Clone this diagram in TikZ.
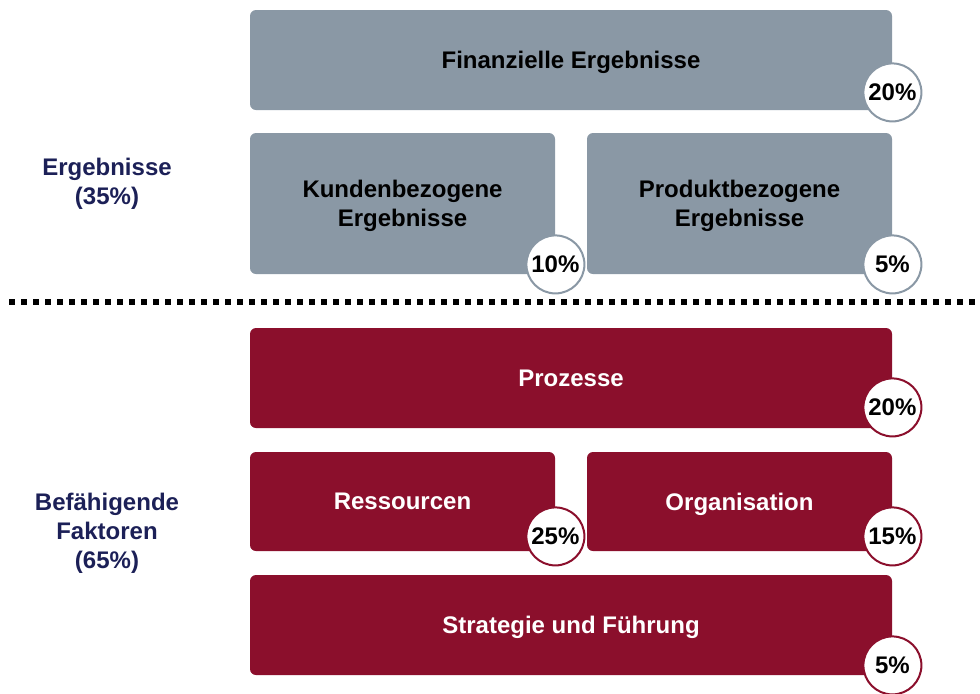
\documentclass[tikz,border=0pt]{standalone}
\usepackage{fontspec}
\setmainfont{Liberation Sans}
\usetikzlibrary{positioning, calc}

\definecolor{resgray}{HTML}{8A98A5}
\definecolor{enared}{HTML}{8B0F2C}
\definecolor{labelblue}{HTML}{1C2057}

\begin{document}
\begin{tikzpicture}[x=0.5pt, y=-0.5pt, font=\bfseries\fontsize{12}{14.5}\selectfont]
    \tikzstyle{result} = [fill=resgray, text=black, rounded corners=3pt, align=center, inner sep=0pt, text depth=0pt];
    \tikzstyle{enabler} = [fill=enared, text=white, rounded corners=3pt, align=center, inner sep=0pt, text depth=0pt];
    \tikzstyle{wide} = [minimum width=321pt, minimum height=50pt];
    \tikzstyle{half} = [minimum width=152.5pt, minimum height=49.5pt];
    \tikzstyle{pct} = [draw, circle, fill=white, text=black, line width=1pt, minimum size=29pt, inner sep=0pt, text depth=0pt];
    \tikzstyle{group} = [text=labelblue, align=center, text depth=0pt];

    \useasboundingbox (0,0) rectangle (980,693);

    % results
    \node[result, wide] at (571, 60) (fin) {Finanzielle Ergebnisse};
    \node[result, half, minimum height=70.5pt] at (402.5, 203.5) (kunden) {Kundenbezogene\\Ergebnisse};
    \node[result, half, minimum height=70.5pt] at (739.5, 203.5) (produkt) {Produktbezogene\\Ergebnisse};

    \node[pct, draw=resgray] at ($(fin.south east)+(0,-18)$) (finP) {20\%};
    \node[pct, draw=resgray] at ($(kunden.south east)+(0,-10)$) (kundenP) {10\%};
    \node[pct, draw=resgray] at ($(produkt.south east)+(0,-10)$) (produktP) {5\%};

    \node[group] at (107, 181) (erg) {Ergebnisse\\(35\%)};

    % separator
    \coordinate (sepL) at (9, 302);
    \coordinate (sepR) at (980, 302);
    \draw[line width=3pt, dash pattern=on 3pt off 3pt] (sepL) -- (sepR);

    % enablers
    \node[enabler, wide] at (571, 378) (proz) {Prozesse};
    \node[enabler, half] at (402.5, 501.5) (ress) {Ressourcen};
    \node[enabler, half] at (739.5, 501.5) (org) {Organisation};
    \node[enabler, wide] at (571, 625) (strat) {Strategie und Führung};

    \node[pct, draw=enared] at ($(proz.south east)+(0,-21)$) (prozP) {20\%};
    \node[pct, draw=enared] at ($(ress.south east)+(0,-15)$) (ressP) {25\%};
    \node[pct, draw=enared] at ($(org.south east)+(0,-15)$) (orgP) {15\%};
    \node[pct, draw=enared] at ($(strat.south east)+(0,-10)$) (stratP) {5\%};

    \node[group] at (107, 531) (bef) {Befähigende\\Faktoren\\(65\%)};
\end{tikzpicture}
\end{document}
